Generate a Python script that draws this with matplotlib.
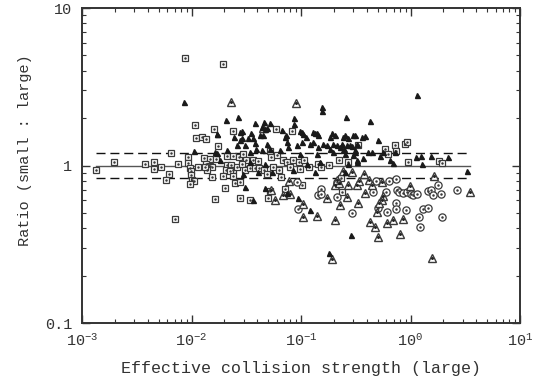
import numpy as np
import matplotlib
matplotlib.use("Agg")
import matplotlib.pyplot as plt
from matplotlib.ticker import FixedLocator, LogLocator, NullFormatter, FuncFormatter

# --- data: effective collision strengths (large) and ratio small/large ---
sq_x = [0.0087, 0.0193, 0.0108, 0.0162, 0.0237, 0.0111, 0.0124, 0.0137, 0.0176, 0.00646,
        0.00923, 0.00923, 0.00196, 0.00133, 0.00376, 0.00459, 0.00459, 0.00526, 0.00748, 0.0096,
        0.0099, 0.0099, 0.01146, 0.0130, 0.0146, 0.0166, 0.0137, 0.0146, 0.0153, 0.0138,
        0.00623, 0.00585, 0.0101, 0.0105, 0.0097, 0.0155, 0.0164, 0.00707, 0.0592, 0.0835,
        0.0212, 0.0241, 0.0273, 0.0297, 0.0313, 0.0367, 0.0407, 0.0521, 0.0528, 0.0608,
        0.0689, 0.0750, 0.0851, 0.0960, 0.1072, 0.119, 0.144, 0.151, 0.181, 0.224,
        0.0210, 0.0230, 0.0241, 0.0259, 0.0287, 0.0308, 0.0342, 0.0380, 0.0416, 0.0459,
        0.0486, 0.0558, 0.0634, 0.0656, 0.0794, 0.0979, 0.0207, 0.0225, 0.0195, 0.0241,
        0.0250, 0.0277, 0.0203, 0.0277, 0.0342, 0.0497, 0.0521, 0.0714, 0.1014, 0.0133,
        0.334, 0.585, 0.620, 0.722, 0.738, 0.891, 0.935, 0.955, 1.83, 1.95,
        0.270, 0.231, 0.235]
sq_y = [4.81, 4.39, 1.81, 1.70, 1.66, 1.50, 1.52, 1.48, 1.33, 1.20,
        1.14, 1.04, 1.06, 0.94, 1.03, 1.05, 0.95, 0.98, 1.02, 0.97,
        0.93, 0.87, 0.98, 1.11, 1.10, 1.10, 1.02, 1.00, 0.98, 0.94,
        0.89, 0.81, 0.81, 0.80, 0.76, 0.84, 0.61, 0.46, 1.71, 1.66,
        1.15, 1.15, 1.13, 1.19, 1.08, 1.08, 1.07, 1.24, 1.14, 1.17,
        1.08, 1.06, 1.08, 1.06, 1.09, 0.98, 1.02, 0.98, 1.01, 1.09,
        1.01, 1.01, 0.94, 0.98, 1.03, 0.94, 0.96, 0.96, 0.96, 0.94,
        0.89, 0.98, 0.94, 0.84, 0.98, 0.95, 0.94, 0.93, 0.86, 0.86,
        0.78, 0.79, 0.72, 0.62, 0.60, 0.62, 0.69, 0.71, 0.75, 0.98,
        1.35, 1.28, 1.19, 1.35, 1.24, 1.37, 1.42, 1.06, 1.07, 1.04,
        1.06, 0.83, 0.68]

tri_x = [0.0086, 0.0207, 0.0268, 0.0376, 0.0277, 0.0292, 0.0353, 0.0245, 0.0287, 0.0330,
         0.0463, 0.0521, 1.15, 0.155, 0.155, 0.0869, 0.0869, 0.256, 0.427, 0.0438,
         0.0469, 0.0490, 0.0453, 0.0667, 0.0730, 0.0714, 0.0979, 0.1037, 0.1111, 0.134,
         0.144, 0.191, 0.184, 0.252, 0.270, 0.384, 0.50, 0.0171, 0.0422, 0.1014,
         0.129, 0.139, 0.205, 0.243, 0.301, 0.0277, 0.0367, 0.0259, 0.0308, 0.0376,
         0.0388, 0.0486, 0.0521, 0.0745, 0.0766, 0.0914, 0.1014, 0.121, 0.129, 0.144,
         0.160, 0.172, 0.184, 0.197, 0.212, 0.227, 0.247, 0.280, 0.311, 0.323,
         0.0164, 0.0210, 0.0342, 0.0438, 0.0643, 0.0979, 0.139, 0.197, 0.252, 0.301,
         0.0182, 0.0342, 0.0469, 0.1127, 0.149, 0.270, 0.323, 0.0297, 0.0407, 0.0540,
         0.0851, 0.134, 0.0308, 0.0469, 0.0745, 0.0367, 0.0944, 0.121, 0.0105, 0.0170,
         0.0170, 0.311, 0.358, 0.235, 0.261, 0.290, 0.243, 0.311, 0.412, 0.442,
         0.565, 0.722, 0.526, 0.650, 0.697, 1.12, 1.25, 1.53, 2.21, 1.26,
         0.323, 0.370, 3.26, 0.252, 0.284, 0.180]
tri_y = [2.54, 1.96, 2.04, 1.87, 1.64, 1.66, 1.62, 1.52, 1.49, 1.50,
         1.90, 1.87, 2.80, 2.36, 2.22, 1.99, 1.83, 2.02, 1.92, 1.76,
         1.70, 1.72, 1.56, 1.68, 1.56, 1.52, 1.66, 1.58, 1.51, 1.62,
         1.56, 1.60, 1.51, 1.56, 1.49, 1.54, 1.45, 1.58, 1.56, 1.64,
         1.64, 1.60, 1.56, 1.52, 1.56, 1.45, 1.49, 1.35, 1.35, 1.40,
         1.28, 1.38, 1.28, 1.42, 1.32, 1.35, 1.42, 1.38, 1.42, 1.32,
         1.38, 1.35, 1.28, 1.38, 1.35, 1.32, 1.28, 1.35, 1.25, 1.38,
         1.22, 1.25, 1.22, 1.25, 1.25, 1.19, 1.19, 1.22, 1.19, 1.17,
         1.08, 1.06, 1.03, 1.03, 1.06, 1.03, 1.06, 0.89, 0.91, 0.91,
         0.94, 0.91, 0.73, 0.72, 0.67, 0.60, 0.62, 0.52, 1.24, 1.58,
         1.21, 1.56, 1.52, 1.38, 1.35, 1.33, 1.25, 1.22, 1.22, 1.22,
         1.22, 1.22, 1.15, 1.09, 1.04, 1.14, 1.15, 1.15, 1.14, 1.03,
         1.09, 1.11, 0.93, 0.91, 0.36, 0.28]

otri_x = [0.0228, 0.0898, 0.0450, 0.243, 0.290, 0.205, 0.323, 0.0782, 0.0689, 0.0794,
          0.0579, 0.0532, 0.172, 0.261, 0.227, 0.1050, 0.1050, 0.141, 0.205, 0.224,
          0.215, 0.376, 0.421, 0.341, 0.270, 0.546, 0.442, 0.989, 1.64, 3.49,
          0.384, 0.565, 0.546, 0.519, 0.334, 0.491, 0.427, 0.474, 0.607, 0.697,
          0.849, 0.801, 0.508, 0.193, 1.56]
otri_y = [2.54, 2.48, 1.72, 0.92, 0.91, 0.75, 0.75, 0.80, 0.65, 0.66,
          0.60, 0.70, 0.62, 0.63, 0.56, 0.57, 0.47, 0.48, 0.45, 0.77,
          0.81, 0.88, 0.81, 0.80, 0.75, 0.79, 0.75, 0.74, 0.86, 0.68,
          0.67, 0.64, 0.60, 0.58, 0.58, 0.51, 0.44, 0.41, 0.43, 0.45,
          0.46, 0.37, 0.35, 0.255, 0.258]

circ_x = [0.0914, 0.151, 0.144, 0.153, 0.212, 0.215, 0.0944, 0.290, 0.484, 0.637,
          0.738, 0.452, 0.600, 0.758, 0.790, 0.859, 0.92, 1.005, 1.06, 1.14,
          1.45, 1.53, 1.60, 1.89, 1.80, 2.66, 0.738, 0.738, 0.91, 1.29,
          1.45, 0.607, 0.508, 1.20, 1.93, 1.22]
circ_y = [0.79, 0.71, 0.65, 0.66, 0.63, 0.79, 0.53, 0.50, 0.80, 0.80,
          0.82, 0.68, 0.68, 0.70, 0.68, 0.67, 0.68, 0.66, 0.65, 0.66,
          0.69, 0.70, 0.65, 0.66, 0.75, 0.70, 0.58, 0.53, 0.52, 0.53,
          0.54, 0.51, 0.54, 0.47, 0.47, 0.41]

# reference ratios: unity and +/-20 %
ratio_levels = [1.2, 1 / 1.2]

plt.rcParams['font.family'] = ['Liberation Mono', 'DejaVu Sans']
plt.rcParams['mathtext.default'] = 'regular'

fig = plt.figure(figsize=(5.34, 3.81), dpi=100)
ax = fig.add_axes([0.1536, 0.152, 0.8202, 0.827])
edge = '#3a3a3a'

all_x = sq_x + tri_x + otri_x + circ_x
x0, x1 = min(all_x), max(all_x)
ax.plot([x0, x1], [1, 1], color='#555555', lw=1.0, zorder=1)
for r in ratio_levels:
    ax.plot([x0, x1], [r, r], color='#111111', lw=1.0, dashes=(6.5, 3.5), zorder=1)

# open markers with a dot in the middle
ax.plot(sq_x, sq_y, ls='none', marker='s', ms=5.0, mfc='white', mec=edge, mew=0.9, zorder=3)
ax.plot(sq_x, sq_y, ls='none', marker='.', ms=1.6, color=edge, zorder=4)
ax.plot(circ_x, circ_y, ls='none', marker='o', ms=5.2, mfc='white', mec=edge, mew=0.9, zorder=3)
ax.plot(circ_x, circ_y, ls='none', marker='.', ms=1.6, color=edge, zorder=4)
ax.plot(otri_x, otri_y, ls='none', marker='^', ms=6.0, mfc='white', mec=edge, mew=1.0, zorder=3)
ax.plot(otri_x, otri_y, ls='none', marker='.', ms=2.2, color='#222222', zorder=4)
ax.plot(tri_x, tri_y, ls='none', marker='^', ms=3.6, color='#1a1a1a', zorder=5)

ax.set_xscale('log')
ax.set_yscale('log')
ax.set_xlim(1e-3, 1e1)
ax.set_ylim(0.1, 10)

ax.xaxis.set_major_locator(LogLocator(base=10, numticks=10))
ax.xaxis.set_minor_locator(LogLocator(base=10, subs=np.arange(2, 10), numticks=20))
ax.xaxis.set_minor_formatter(NullFormatter())
ax.xaxis.set_major_formatter(FuncFormatter(lambda v, p: r'$10^{%d}$' % round(np.log10(v))))
ax.yaxis.set_major_locator(FixedLocator([0.1, 1, 10]))
ax.yaxis.set_minor_locator(LogLocator(base=10, subs=np.arange(2, 10), numticks=20))
ax.yaxis.set_minor_formatter(NullFormatter())
ax.yaxis.set_major_formatter(FuncFormatter(lambda v, p: '%g' % v))

ax.tick_params(which='both', direction='in', top=True, right=True, color='#333333',
               labelsize=11, labelcolor='#333333')
ax.tick_params(which='major', length=6, width=1.0)
ax.tick_params(which='minor', length=3, width=0.8)
ax.tick_params(axis='x', pad=7)
ax.tick_params(axis='y', pad=7)

for s in ax.spines.values():
    s.set_color('#333333')
    s.set_linewidth(1.4)

ax.set_xlabel('Effective collision strength (large)', fontsize=12, color='#333333', labelpad=8)
ax.set_ylabel('Ratio (small : large)', fontsize=11, color='#333333', labelpad=14)
ax.yaxis.set_label_coords(-0.115, 0.55)

fig.savefig('out.png', dpi=100)
